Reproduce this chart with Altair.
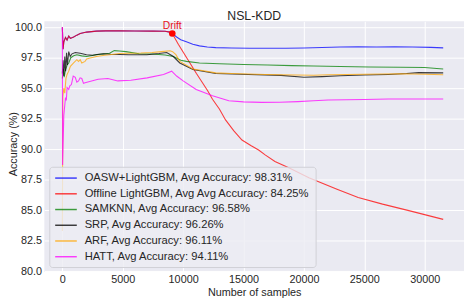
import altair as alt
import pandas as pd

names = [
    "OASW+LightGBM, Avg Accuracy: 98.31%",
    "Offline LightGBM, Avg Avg Accuracy: 84.25%",
    "SAMKNN, Avg Accuracy: 96.58%",
    "SRP, Avg Accuracy: 96.26%",
    "ARF, Avg Accuracy: 96.11%",
    "HATT, Avg Accuracy: 94.11%",
]
colors = ["#0000ff", "#ff0000", "#008000", "#000000", "#ffa500", "#ff00ff"]
alphas = [0.75, 0.75, 0.6, 0.6, 0.6, 0.6]

# shared LightGBM curve before the drift
lgb_pre_x = [0, 60, 122, 260, 390, 528, 666, 933, 1200, 1477, 2013, 2825, 3600, 4724, 6000, 7500, 8500, 8900, 9100]
lgb_pre_y = [100.0, 98.2, 98.8, 99.16, 98.95, 99.27, 99.08, 99.2, 99.35, 99.48, 99.6, 99.68, 99.7, 99.7, 99.69, 99.68, 99.67, 99.6, 99.48]

oasw_post_x = [9460, 9800, 10270, 10800, 11350, 12000, 12700, 14000, 15500, 17000, 18500, 20000, 21500, 23000, 24500, 26000, 27500, 29000, 30500, 31530]
oasw_post_y = [99.2, 98.98, 98.8, 98.6, 98.47, 98.38, 98.33, 98.3, 98.28, 98.27, 98.27, 98.3, 98.34, 98.38, 98.4, 98.38, 98.4, 98.38, 98.35, 98.31]

offline_post_x = [9600, 10100, 10600, 11100, 11600, 12030, 12430, 13000, 13510, 14200, 14870, 15600, 16250, 16790, 17600, 18790, 20410, 22740, 24490, 26510, 28690, 31530]
offline_post_y = [98.6, 97.8, 97.0, 96.2, 95.45, 94.8, 94.1, 93.3, 92.4, 91.5, 90.75, 90.3, 89.94, 89.54, 89.0, 88.47, 87.66, 86.72, 86.05, 85.5, 84.97, 84.25]

samknn_x = [0, 80, 150, 260, 400, 528, 700, 933, 1200, 1600, 2013, 2825, 3912, 4300, 4724, 5260, 6347, 7427, 8506, 9190, 9800, 10270, 11350, 13000, 15000, 17000, 19000, 20800, 23000, 25400, 28000, 30000, 31000, 31530]
samknn_y = [95.8, 96.6, 95.9, 96.5, 96.9, 97.07, 97.5, 97.66, 97.74, 97.65, 97.6, 97.74, 97.87, 98.08, 98.05, 98.0, 97.82, 97.8, 97.72, 97.6, 97.3, 97.2, 97.07, 97.01, 96.94, 96.9, 96.85, 96.82, 96.78, 96.74, 96.72, 96.7, 96.62, 96.58]

srp_x = [0, 60, 130, 200, 270, 350, 420, 528, 650, 800, 1070, 1480, 2000, 2500, 3000, 3400, 4000, 5500, 7000, 8000, 8640, 9190, 9724, 10812, 12700, 15400, 18100, 20000, 21500, 23000, 25000, 27000, 28500, 29500, 31530]
srp_y = [96.2, 97.3, 96.0, 97.6, 96.4, 97.9, 96.9, 98.0, 97.6, 97.82, 97.93, 97.87, 97.74, 97.7, 97.78, 97.82, 97.78, 97.74, 97.75, 97.85, 97.93, 97.6, 97.07, 96.53, 96.2, 96.13, 96.05, 95.9, 95.95, 96.02, 96.08, 96.13, 96.2, 96.28, 96.26]

arf_x = [0, 40, 120, 200, 300, 390, 528, 666, 933, 1200, 1340, 1480, 1610, 1880, 2013, 2300, 2825, 3500, 3912, 4724, 5600, 6500, 7427, 8200, 8920, 9130, 9400, 9724, 10812, 12700, 14000, 16800, 18000, 20800, 22000, 25000, 28000, 30000, 31530]
arf_y = [83.3, 94.3, 95.0, 94.6, 95.8, 96.13, 96.4, 96.8, 97.07, 97.34, 97.2, 97.34, 97.07, 97.2, 97.39, 97.47, 97.6, 97.7, 97.74, 97.85, 97.87, 97.88, 97.93, 98.0, 98.07, 98.0, 97.75, 97.2, 96.58, 96.26, 96.2, 96.13, 96.1, 96.07, 96.1, 96.15, 96.18, 96.15, 96.11]

hatt_x = [0, 20, 120, 200, 260, 330, 390, 528, 620, 747, 900, 1070, 1200, 1340, 1470, 1610, 1750, 1880, 2420, 2960, 3770, 4590, 5670, 7020, 8380, 9050, 9460, 10000, 11080, 12430, 13780, 15000, 16500, 18000, 19500, 20800, 22000, 25000, 27000, 29000, 31530]
hatt_y = [100.0, 88.7, 92.76, 93.6, 94.24, 94.0, 95.05, 94.9, 95.2, 95.3, 96.0, 95.9, 95.5, 95.6, 95.85, 95.8, 95.4, 95.45, 95.6, 95.73, 95.8, 95.6, 95.65, 95.85, 96.13, 96.4, 96.0, 95.6, 94.9, 94.38, 93.97, 93.88, 93.84, 93.85, 93.9, 93.97, 94.03, 94.08, 94.11, 94.12, 94.11]

drift_x = [9100]
drift_y = [99.48]
drift_label = ["Drift"]

x_ticks = [0, 5000, 10000, 15000, 20000, 25000, 30000]
y_ticks = [80.0, 82.5, 85.0, 87.5, 90.0, 92.5, 95.0, 97.5, 100.0]

series = [
    (lgb_pre_x + oasw_post_x, lgb_pre_y + oasw_post_y),
    (lgb_pre_x + offline_post_x, lgb_pre_y + offline_post_y),
    (samknn_x, samknn_y),
    (srp_x, srp_y),
    (arf_x, arf_y),
    (hatt_x, hatt_y),
]
rows = []
for i, (xs, ys) in enumerate(series):
    for j, (xv, yv) in enumerate(zip(xs, ys)):
        rows.append({"series": names[i], "k": i, "j": j, "x": xv, "acc": yv})
df = pd.DataFrame(rows)
drift_df = pd.DataFrame({"x": drift_x, "acc": drift_y, "label": drift_label})

FONT = "Liberation Sans"
TXT = "#262626"

PAD_L, PAD_T, PAD_R, PAD_B = 37, 11, 2, 26
W, H = 427, 255
left_px = 8 + PAD_L
top_px = 8 + PAD_T
x_min = (left_px - 63.3) / 0.01229
x_max = (left_px + W - 63.3) / 0.01229
y_max = 100 + (25 - top_px) / 12.415
y_min = 80 - (top_px + H - 273.3) / 12.415

xscale = alt.Scale(domain=[x_min, x_max], nice=False, zero=False)
yscale = alt.Scale(domain=[y_min, y_max], nice=False, zero=False)

lines = alt.Chart(df).mark_line(strokeWidth=1.1, clip=True).encode(
    x=alt.X("x:Q", scale=xscale,
            axis=alt.Axis(values=x_ticks, tickCount=10, format="d", title="Number of samples",
                          labelPadding=2, titlePadding=2)),
    y=alt.Y("acc:Q", scale=yscale,
            axis=alt.Axis(values=y_ticks, tickCount=20, format=".1f", title="Accuracy (%)",
                          labelOverlap=False, labelPadding=3,
                          titleX=-26, titleY=124.5, titleBaseline="bottom", titleAngle=270)),
    color=alt.Color("series:N", sort=names,
                    scale=alt.Scale(domain=names, range=colors),
                    legend=alt.Legend(
                        title=None, orient="none", legendX=5, legendY=148,
                        symbolType="M-1,0H3", symbolSize=121, symbolStrokeWidth=1.5,
                        labelFont=FONT, labelFontSize=11.4, labelColor=TXT,
                        labelLimit=500, labelOffset=18,
                        fillColor="rgba(236,236,243,0.8)", strokeColor="#d0d0d6",
                        cornerRadius=3, padding=5, rowPadding=4)),
    opacity=alt.Opacity("series:N", sort=names,
                        scale=alt.Scale(domain=names, range=alphas)),
    order=alt.Order("j:Q"),
)

point = alt.Chart(drift_df).mark_point(filled=True, color="#ff0000", size=45, opacity=1).encode(
    x=alt.X("x:Q", scale=xscale), y=alt.Y("acc:Q", scale=yscale))
text = alt.Chart(drift_df).mark_text(color="#e8101c", font=FONT, fontSize=10.5, dy=-8).encode(
    x=alt.X("x:Q", scale=xscale), y=alt.Y("acc:Q", scale=yscale), text="label:N")

chart = alt.layer(lines, point, text).properties(
    width=W, height=H,
    title=alt.TitleParams("NSL-KDD", font=FONT, fontSize=12.5, fontWeight="normal",
                          color=TXT, offset=1, anchor="middle", dy=3),
    autosize=alt.AutoSizeParams(type="none"),
    padding={"left": PAD_L, "top": PAD_T, "right": PAD_R, "bottom": PAD_B},
).configure_view(fill="#EAEAF2", strokeWidth=0).configure_axis(
    labelFont=FONT, labelFontSize=11, labelColor=TXT, titleFont=FONT, titleFontSize=11,
    titleFontWeight="normal", titleColor=TXT, domain=False, ticks=False,
    gridColor="#ffffff", gridWidth=1, gridOpacity=1,
)

chart.save("out.html", embed_options={"renderer": "svg", "actions": False})
